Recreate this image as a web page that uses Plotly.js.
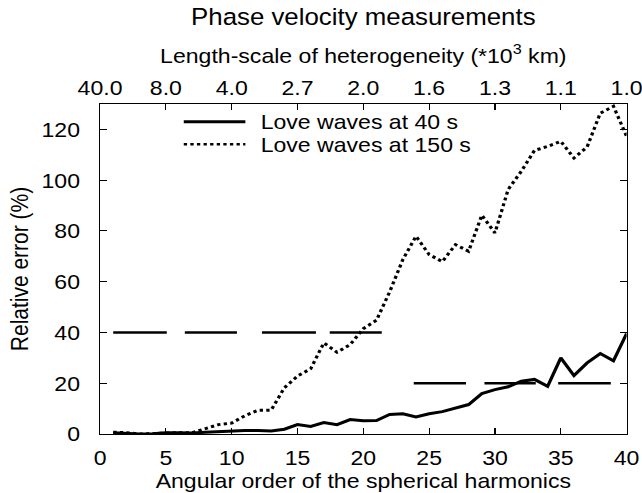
<!DOCTYPE html>
<html>
<head>
<meta charset="utf-8">
<script src="https://cdn.plot.ly/plotly-3.0.1.min.js"></script>
<style>
html,body{margin:0;padding:0;background:#fff;overflow:hidden;}
#chart{width:584px;height:493px;transform:scaleX(1.09932);transform-origin:0 0;}
</style>
</head>
<body>
<div id="chart"></div>
<script>
// Angular order of the spherical harmonics
const degrees = [1,2,3,4,5,6,7,8,9,10,11,12,13,14,15,16,17,18,19,20,21,22,23,24,25,26,27,28,29,30,31,32,33,34,35,36,37,38,39,40];
// Relative error (%) - Love waves at 40 s
const love40 = [0.5,0.3,0.0,0.1,0.5,0.5,0.4,0.7,1.0,1.2,1.4,1.4,1.2,1.9,3.7,3.0,4.5,3.7,5.7,5.2,5.3,7.7,8.0,6.7,8.0,8.8,10.3,11.6,15.9,17.5,18.6,20.8,21.5,18.8,30.0,23.0,28.0,31.7,28.8,39.6];
// Relative error (%) - Love waves at 150 s
const love150 = [0.7,0.5,0.0,0.2,0.5,0.5,0.5,2.2,3.7,4.3,7.2,9.3,9.4,18.2,22.8,25.7,35.9,32.2,35.2,41.5,44.8,56.0,68.7,77.9,70.7,67.9,74.6,72.0,86.2,79.2,96.3,103.5,111.7,113.3,115.3,108.7,113.1,126.4,129.1,117.3];
// Reference-level dashes: [start degree, end degree]
const level40Value = 40;
const level40Segments = [[1.0,5.07],[6.44,10.4],[12.3,16.4],[17.45,21.4]];
const level20Value = 20;
const level20Segments = [[23.83,27.8],[29.2,33.1],[34.8,38.8]];
// Axis ticks
const bottomTicks = [0,5,10,15,20,25,30,35,40];
const topTickText = ['40.0','8.0','4.0','2.7','2.0','1.6','1.3','1.1','1.0'];
const yTicks = [0,20,40,60,80,100,120];
const seriesNames = ['Love waves at 40 s','Love waves at 150 s'];

function segTrace(segs, level){
  const xs = [], ys = [];
  segs.forEach(s => { xs.push(s[0], s[1], null); ys.push(level, level, null); });
  return {x: xs, y: ys, type:'scatter', mode:'lines', connectgaps:false,
          line:{color:'#000', width:2.5}, showlegend:false, hoverinfo:'skip'};
}

const FONT = 'Liberation Sans, Arial, Helvetica, sans-serif';
const lineStyles = [{color:'#000', width:3}, {color:'#000', width:3, dash:'dot'}];
const traces = [
  {x: degrees, y: love40, type:'scatter', mode:'lines', name: seriesNames[0], line: lineStyles[0], showlegend:false},
  {x: degrees, y: love150, type:'scatter', mode:'lines', name: seriesNames[1], line: lineStyles[1], showlegend:false},
  segTrace(level40Segments, level40Value),
  segTrace(level20Segments, level20Value),
  {x: bottomTicks, y: bottomTicks.map(() => null), xaxis:'x2', type:'scatter', mode:'lines',
   showlegend:false, hoverinfo:'skip'}
];

// Legend (drawn inside the plot, top-left)
const legendRows = [0.9465, 0.878];
const legendShapes = seriesNames.map((n, i) => ({
  type:'line', xref:'paper', yref:'paper', x0:0.159, x1:0.276, y0:legendRows[i], y1:legendRows[i],
  line: Object.assign({}, lineStyles[i], {width: i === 0 ? 3 : 2.5})
}));
const legendTexts = seriesNames.map((n, i) => ({
  text: n, xref:'paper', yref:'paper', x:0.3008, y:legendRows[i], xanchor:'left', yanchor:'middle',
  showarrow:false, font:{family: FONT, size: 21, color:'#000'}
}));

const layout = {
  width: 584, height: 493,
  margin: {l: 90.5, r: 14.1, t: 104, b: 58.5, pad: 0},
  paper_bgcolor: '#fff', plot_bgcolor: '#fff',
  font: {family: FONT, size: 21, color: '#000'},
  title: {text: 'Phase velocity measurements', font:{family: FONT, size: 23.5, color:'#000'},
          x: 0.5, xref: 'paper', y: 1 - 17/493, yref: 'container', yanchor: 'middle'},
  showlegend: false,
  shapes: legendShapes,
  annotations: legendTexts,
  xaxis: {range: [0,40], tickvals: bottomTicks, ticktext: bottomTicks.map(String),
          ticks: 'inside', ticklen: 6, tickwidth: 1, tickcolor: '#000',
          showline: true, linecolor: '#000', linewidth: 1, mirror: 'ticks',
          showgrid: false, zeroline: false, ticklabelstandoff: 5, ticklabeloverflow: 'allow',
          title: {text: 'Angular order of the spherical harmonics', standoff: 4,
                  font:{family: FONT, size: 21, color:'#000'}}},
  xaxis2: {range: [0,40], overlaying: 'x', side: 'top', tickvals: bottomTicks, ticktext: topTickText,
           ticks: '', showline: false, showgrid: false, zeroline: false, ticklabelstandoff: 4,
           ticklabeloverflow: 'allow',
           title: {text: 'Length-scale of heterogeneity (*10<sup>3</sup> km)', standoff: 6,
                   font:{family: FONT, size: 21, color:'#000'}}},
  yaxis: {range: [0,130], tickvals: yTicks, ticktext: yTicks.map(String),
          ticks: 'inside', ticklen: 6, tickwidth: 1, tickcolor: '#000',
          showline: true, linecolor: '#000', linewidth: 1, mirror: 'ticks',
          showgrid: false, zeroline: false, ticklabelstandoff: 13,
          title: {text: 'Relative error (%)', standoff: 5,
                  font:{family: FONT, size: 21, color:'#000'}}}
};

Plotly.newPlot('chart', traces, layout, {staticPlot: true, displayModeBar: false});
</script>
</body>
</html>
